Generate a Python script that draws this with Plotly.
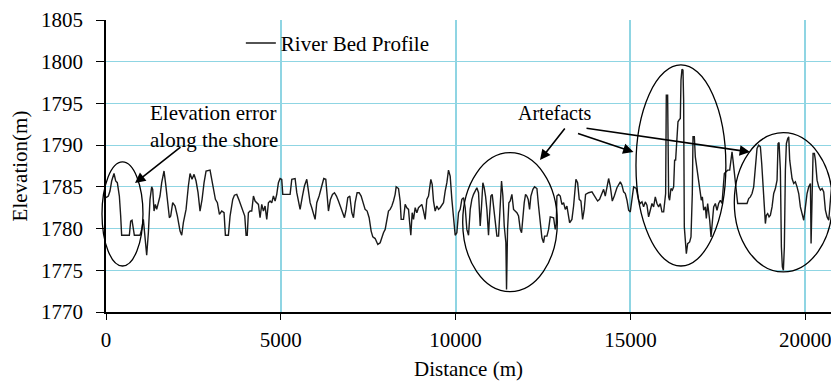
import plotly.graph_objects as go

# River bed longitudinal profile: distance along the channel (m) and bed elevation (m)
distance_m = [
    0, 67, 114, 162, 229, 277, 324, 382, 420, 448, 668, 706, 744, 782, 811, 973,
    1021, 1068, 1116, 1164, 1212, 1259, 1307, 1336, 1374, 1412, 1450, 1498, 1545,
    1593, 1660, 1708, 1755, 1813, 1851, 1908, 1975, 2042, 2118, 2166, 2213, 2290,
    2356, 2404, 2461, 2519, 2576, 2633, 2690, 2748, 2805, 2862, 2976, 3024, 3072,
    3129, 3186, 3244, 3310, 3377, 3415, 3501, 3549, 3625, 3673, 3740, 3797, 3854,
    3911, 3969, 4007, 4040, 4073, 4121, 4169, 4217, 4264, 4312, 4360, 4407, 4455,
    4503, 4550, 4598, 4646, 4693, 4741, 4789, 4837, 4884, 4932, 4980, 5027, 5056,
    5266, 5314, 5409, 5457, 5504, 5552, 5619, 5676, 5743, 5791, 5838, 5886, 5934,
    5981, 6029, 6096, 6172, 6229, 6287, 6325, 6363, 6420, 6478, 6535, 6592, 6649,
    6707, 6764, 6821, 6869, 6916, 6974, 7031, 7079, 7126, 7183, 7241, 7298, 7355,
    7412, 7470, 7527, 7584, 7632, 7699, 7775, 7842, 7890, 7937, 7985, 8033, 8080,
    8128, 8176, 8223, 8271, 8300, 8367, 8414, 8443, 8510, 8557, 8605, 8653, 8681,
    8719, 8758, 8796, 8844, 8891, 8939, 8987, 9034, 9082, 9130, 9177, 9225, 9292,
    9330, 9368, 9416, 9464, 9511, 9559, 9607, 9654, 9702, 9750, 9797, 9845, 9893,
    9941, 9988, 10036, 10084, 10131, 10179, 10227, 10275, 10322, 10370, 10418,
    10465, 10513, 10561, 10608, 10656, 10704, 10742, 10780, 10818, 10856, 10895,
    10942, 10971, 11009, 11047, 11086, 11133, 11181, 11229, 11276, 11314, 11352,
    11391, 11438, 11457, 11486, 11524, 11562, 11610, 11658, 11705, 11753, 11801,
    11849, 11887, 11925, 11963, 12001, 12039, 12077, 12116, 12154, 12211, 12259,
    12326, 12373, 12421, 12469, 12516, 12545, 12612, 12660, 12707, 12803, 12850,
    12879, 12898, 12946, 12993, 13041, 13089, 13137, 13184, 13261, 13327, 13375,
    13442, 13490, 13537, 13585, 13633, 13680, 13718, 13804, 13900, 13947, 13995,
    14062, 14119, 14176, 14234, 14281, 14329, 14377, 14424, 14482, 14539, 14615,
    14711, 14758, 14806, 14854, 14902, 14949, 14997, 15045, 15092, 15168, 15235,
    15283, 15331, 15378, 15426, 15474, 15521, 15569, 15617, 15664, 15712, 15760,
    15808, 15855, 15903, 15951, 15979, 16008, 16027, 16065, 16094, 16122, 16160,
    16199, 16237, 16265, 16294, 16332, 16361, 16389, 16428, 16447, 16475, 16504,
    16523, 16542, 16571, 16600, 16638, 16695, 16733, 16771, 16791, 16829, 16857,
    16905, 16953, 17000, 17029, 17058, 17096, 17144, 17172, 17210, 17239, 17268,
    17306, 17344, 17382, 17430, 17477, 17525, 17573, 17620, 17649, 17687, 17735,
    17783, 17840, 17878, 17907, 17935, 17973, 18002, 18031, 18069, 18336, 18384,
    18431, 18479, 18527, 18575, 18622, 18670, 18718, 18756, 18794, 18832, 18861,
    18889, 18927, 18966, 19004, 19052, 19099, 19147, 19195, 19223, 19252, 19290,
    19319, 19347, 19376, 19404, 19433, 19462, 19500, 19529, 19557, 19595, 19624,
    19672, 19719, 19767, 19815, 19862, 19910, 19958, 20006, 20053, 20101, 20149,
    20168, 20196, 20225, 20263, 20292, 20339, 20387, 20435, 20483, 20530, 20578,
    20626, 20673, 20721, 20750,
]

elevation_m = [
    1783.7, 1783.9, 1784.5, 1785.7, 1786.6, 1785.7, 1785.5, 1783.9, 1781.5, 1779.2,
    1779.2, 1780.9, 1781.0, 1779.9, 1779.2, 1779.2, 1779.9, 1781.1, 1778.7, 1776.8,
    1779.5, 1783.5, 1785.0, 1784.7, 1782.1, 1782.9, 1782.3, 1783.1, 1783.9, 1785.5,
    1786.9, 1785.3, 1783.1, 1781.3, 1781.5, 1783.1, 1782.7, 1781.5, 1779.7, 1779.2,
    1780.7, 1782.3, 1785.1, 1786.6, 1785.9, 1786.5, 1785.7, 1784.3, 1782.1, 1783.5,
    1785.5, 1786.9, 1787.0, 1785.9, 1784.7, 1783.5, 1783.1, 1781.7, 1782.1, 1781.9,
    1779.2, 1779.2, 1781.5, 1783.5, 1784.0, 1784.1, 1783.5, 1782.8, 1782.3, 1781.5,
    1779.2, 1779.2, 1781.9, 1782.1, 1782.1, 1783.9, 1783.3, 1783.1, 1782.9, 1781.3,
    1782.9, 1782.1, 1782.7, 1781.1, 1783.1, 1783.3, 1783.1, 1783.9, 1783.3, 1784.1,
    1785.5, 1786.0, 1785.9, 1784.1, 1784.1, 1785.9, 1786.0, 1784.3, 1783.1, 1782.3,
    1783.9, 1785.1, 1785.9, 1784.7, 1783.1, 1782.5, 1781.7, 1781.1, 1783.1, 1783.9,
    1785.1, 1786.0, 1785.9, 1783.9, 1782.1, 1783.5, 1784.1, 1784.3, 1783.9, 1783.3,
    1782.7, 1782.1, 1781.3, 1782.3, 1783.7, 1783.9, 1781.9, 1781.3, 1783.1, 1784.3,
    1784.3, 1783.9, 1783.1, 1782.3, 1782.1, 1781.3, 1779.7, 1779.0, 1778.8, 1778.1,
    1778.3, 1779.0, 1779.5, 1779.9, 1781.3, 1782.1, 1782.3, 1782.7, 1783.3, 1784.1,
    1785.0, 1784.8, 1783.3, 1781.1, 1781.1, 1782.9, 1782.5, 1782.3, 1780.9, 1779.2,
    1781.9, 1781.1, 1782.5, 1781.9, 1782.5, 1782.7, 1782.9, 1782.1, 1781.1, 1783.5,
    1783.9, 1785.9, 1785.3, 1783.3, 1782.1, 1782.7, 1782.3, 1782.5, 1782.9, 1783.1,
    1784.5, 1785.5, 1787.0, 1786.3, 1783.5, 1780.7, 1779.2, 1779.5, 1781.9, 1782.3,
    1783.5, 1783.7, 1782.5, 1779.9, 1779.2, 1782.3, 1783.5, 1784.1, 1784.5, 1784.9,
    1784.3, 1780.3, 1782.7, 1785.5, 1784.9, 1783.9, 1782.3, 1779.2, 1781.5, 1783.9,
    1784.1, 1782.7, 1781.1, 1779.1, 1779.1, 1783.9, 1785.7, 1783.9, 1780.3, 1778.3,
    1772.7, 1779.9, 1783.1, 1783.3, 1784.1, 1782.3, 1782.1, 1781.9, 1781.5, 1779.9,
    1779.5, 1781.9, 1783.1, 1784.1, 1783.9, 1783.5, 1782.3, 1783.9, 1784.7, 1785.0,
    1784.8, 1782.7, 1780.3, 1778.9, 1778.3, 1779.1, 1779.1, 1779.9, 1781.4, 1781.3,
    1779.9, 1780.5, 1783.9, 1784.1, 1783.9, 1782.9, 1783.1, 1782.3, 1782.7, 1780.7,
    1781.1, 1782.7, 1785.9, 1785.5, 1783.5, 1783.3, 1781.1, 1782.3, 1784.1, 1784.3,
    1784.4, 1784.1, 1783.7, 1783.3, 1783.5, 1784.1, 1784.7, 1783.9, 1784.9, 1786.0,
    1785.1, 1783.3, 1783.9, 1784.9, 1785.6, 1785.2, 1784.4, 1784.2, 1783.4, 1782.2,
    1782.0, 1783.4, 1785.0, 1784.8, 1783.4, 1783.0, 1783.2, 1782.6, 1783.2, 1782.8,
    1781.4, 1782.2, 1783.0, 1782.6, 1783.8, 1783.0, 1782.6, 1783.0, 1782.0, 1782.0,
    1783.4, 1784.2, 1796.0, 1796.0, 1783.8, 1783.4, 1784.8, 1784.6, 1785.0, 1788.2,
    1788.2, 1791.8, 1792.8, 1793.0, 1793.2, 1797.8, 1799.1, 1799.0, 1795.4, 1780.2,
    1777.8, 1777.0, 1778.2, 1778.4, 1779.0, 1784.2, 1791.0, 1791.0, 1788.6, 1787.0,
    1785.4, 1784.2, 1783.4, 1783.8, 1782.2, 1782.6, 1781.2, 1783.0, 1782.2, 1781.0,
    1779.0, 1781.0, 1782.6, 1783.0, 1782.2, 1783.0, 1783.4, 1783.0, 1785.0, 1786.6,
    1786.8, 1787.0, 1787.0, 1788.6, 1789.2, 1788.2, 1786.6, 1785.0, 1783.8, 1783.0,
    1783.0, 1783.6, 1783.8, 1784.2, 1785.0, 1787.0, 1789.6, 1790.0, 1789.8, 1787.8,
    1784.2, 1782.6, 1780.6, 1781.6, 1781.8, 1781.4, 1781.6, 1782.6, 1784.2, 1784.8,
    1785.8, 1790.2, 1790.3, 1787.0, 1777.8, 1775.4, 1775.0, 1777.8, 1787.0, 1790.2,
    1790.8, 1791.0, 1788.2, 1787.0, 1786.0, 1785.4, 1785.6, 1785.0, 1784.2, 1782.6,
    1781.8, 1781.0, 1782.6, 1784.2, 1785.0, 1785.4, 1778.2, 1783.4, 1789.0, 1789.0,
    1788.2, 1785.8, 1785.0, 1784.6, 1784.8, 1784.4, 1782.2, 1781.4, 1781.0, 1783.4,
    1784.8,
]

x_ticks = [0, 5000, 10000, 15000, 20000]
y_ticks = [1770, 1775, 1780, 1785, 1790, 1795, 1800, 1805]

FONT = "Liberation Serif, Times New Roman, serif"
GRID = "#8fd5e3"

fig = go.Figure()
fig.add_trace(go.Scatter(
    x=distance_m, y=elevation_m, mode="lines", name="River Bed Profile",
    line=dict(color="#1a1a1a", width=1.4),
))

# Ellipses marking the problem areas (paper coordinates so they may overhang the axes)
ellipses = [
    (-0.0055, 0.051, 0.1575, 0.514),
    (0.492, 0.6225, 0.0695, 0.5455),
    (0.731, 0.855, 0.1575, 0.846),
    (0.8666, 1.002, 0.1373, 0.614),
]
for x0, x1, y0, y1 in ellipses:
    fig.add_shape(type="circle", xref="paper", yref="paper",
                  x0=x0, x1=x1, y0=y0, y1=y1,
                  line=dict(color="black", width=1.3), layer="above")

# Text labels
fig.add_annotation(xref="paper", yref="paper", x=0.0579, y=0.635,
                   xanchor="left", yanchor="middle", align="left", showarrow=False,
                   text="Elevation error<br>along the shore",
                   font=dict(family=FONT, size=21, color="black"))
fig.add_annotation(xref="paper", yref="paper", x=0.619, y=0.6815,
                   xanchor="center", yanchor="middle", showarrow=False,
                   text="Artefacts", font=dict(family=FONT, size=20, color="black"))

# Pointer arrows (head position, tail offset in pixels)
arrows = [
    (0.040, 0.4418, 47, -37),
    (0.5986, 0.5205, 26, -33),
    (0.7276, 0.5479, -57, -19),
    (0.8883, 0.5479, -165, -24),
]
for hx, hy, ax, ay in arrows:
    fig.add_annotation(xref="paper", yref="paper", x=hx, y=hy, ax=ax, ay=ay,
                       text="", showarrow=True, arrowhead=2, arrowsize=1.3,
                       arrowwidth=1.6, arrowcolor="black")

fig.update_layout(
    width=831, height=390,
    margin=dict(l=106, r=0, t=20, b=78),
    paper_bgcolor="white", plot_bgcolor="white",
    font=dict(family=FONT, size=21, color="black"),
    showlegend=True,
    legend=dict(x=0.186, y=0.92, xanchor="left", yanchor="middle",
                bgcolor="rgba(0,0,0,0)", font=dict(family=FONT, size=21)),
)
fig.update_xaxes(
    range=[0, 20738], tickvals=x_ticks, ticktext=[str(v) for v in x_ticks],
    showgrid=True, gridcolor=GRID, gridwidth=1.6, zeroline=False,
    showline=True, linecolor="black", linewidth=1.5,
    ticks="outside", ticklen=6, tickcolor="black", ticklabelstandoff=2,
    ticklabeloverflow="allow",
    tickfont=dict(family=FONT, size=21),
    title=dict(text="Distance (m)", font=dict(family=FONT, size=21), standoff=10),
)
fig.update_yaxes(
    range=[1770, 1805], tickvals=y_ticks,
    showgrid=True, gridcolor=GRID, gridwidth=1.2, zeroline=False,
    showline=True, linecolor="black", linewidth=1.5,
    ticks="outside", ticklen=8, tickcolor="black", ticklabelstandoff=9,
    tickfont=dict(family=FONT, size=21),
    title=dict(text="Elevation(m)", font=dict(family=FONT, size=21), standoff=8),
)

fig.write_html("out.html")
